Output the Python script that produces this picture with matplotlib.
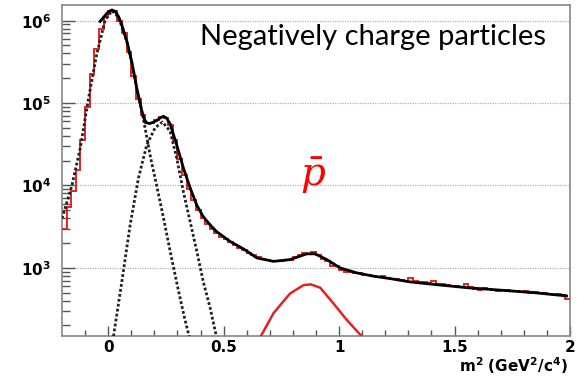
import numpy as np
import matplotlib
matplotlib.use("Agg")
import matplotlib.pyplot as plt
from matplotlib.ticker import FixedLocator, FixedFormatter, LogLocator, FuncFormatter, NullFormatter

# histogram: 110 bins of 0.02 from -0.2 to 2.0 (counts)
BIN_LO = -0.2
BIN_W = 0.02
hist_counts = [
    3000, 5500, 8500, 15500, 35500, 89000, 224000, 447000, 794000, 1120000,
    1320000, 1320000, 1000000, 708000, 417000, 214000, 112000, 70800, 57500, 57500,
    61700, 67600, 66100, 53700, 35500, 20900, 13500, 9100, 6600, 5000,
    3980, 3390, 2950, 2630, 2400, 2240, 2040, 1900, 1740, 1660,
    1510, 1450, 1350, 1290, 1260, 1200, 1200, 1200, 1230, 1260,
    1350, 1450, 1510, 1480, 1550, 1450, 1290, 1200, 1050, 1050,
    950, 900, 890, 870, 860, 830, 810, 800, 780, 790,
    760, 740, 735, 720, 700, 760, 690, 680, 670, 660,
    690, 640, 635, 625, 600, 610, 590, 630, 580, 560,
    545, 570, 560, 535, 530, 545, 540, 530, 525, 515,
    520, 500, 505, 495, 490, 485, 465, 480, 470, 420,
]

# total fit (solid black)
fit_x = [-0.035, -0.02, 0.0, 0.016, 0.03, 0.045, 0.059, 0.081, 0.103, 0.124,
         0.146, 0.157, 0.167, 0.18, 0.195, 0.211, 0.225, 0.239, 0.252, 0.268,
         0.297, 0.326, 0.355, 0.384, 0.412, 0.442, 0.47, 0.528, 0.586, 0.644,
         0.716, 0.788, 0.86, 0.896, 0.947, 1.004, 1.076, 1.148, 1.221, 1.307,
         1.408, 1.553, 1.697, 1.841, 1.985]
fit_y = [977000, 1100000, 1280000, 1350000, 1300000, 1120000, 891000, 562000, 309000, 151000,
         79400, 63000, 57500, 56500, 58500, 61700, 66000, 69200, 66000, 56200,
         30900, 16200, 9330, 5750, 4170, 3310, 2750, 2090, 1700, 1320,
         1200, 1260, 1480, 1480, 1260, 1000, 870, 794, 741, 676,
         631, 575, 537, 501, 457]

# pion component (dotted)
pi_x = [-0.2, -0.158, -0.121, -0.085, -0.049, -0.013, 0.016, 0.045, 0.081, 0.103,
        0.124, 0.146, 0.165, 0.185, 0.21, 0.24, 0.27, 0.30, 0.33, 0.355]
pi_y = [3980, 9770, 28200, 115000, 398000, 1020000, 1320000, 1100000, 550000, 302000,
        148000, 79400, 41700, 20900, 10000, 3980, 1510, 603, 251, 132]

# kaon component (dotted)
k_x = [0.023, 0.059, 0.095, 0.131, 0.167, 0.203, 0.235, 0.268, 0.297, 0.326,
       0.355, 0.384, 0.412, 0.442, 0.47]
k_y = [148, 676, 3310, 12300, 30900, 50100, 58900, 45700, 21400, 8320,
       3630, 1580, 676, 324, 141]

# antiproton component (red)
pbar_x = [0.661, 0.716, 0.788, 0.846, 0.877, 0.918, 0.975, 1.033, 1.098]
pbar_y = [148, 282, 490, 617, 631, 575, 372, 234, 148]

x_ticks = [0, 0.5, 1, 1.5, 2]
x_labels = ["0", "0.5", "1", "1.5", "2"]
y_decades = [1e3, 1e4, 1e5, 1e6]

W, H = 577, 376
fig = plt.figure(figsize=(W / 100, H / 100), dpi=100)
ax = fig.add_axes([62 / W, 1 - 336 / H, (570 - 62) / W, (336 - 5) / H])

red = "#e32222"
edges = BIN_LO + BIN_W * np.arange(len(hist_counts) + 1)
ax.stairs(hist_counts, edges, color=red, lw=1.4, baseline=None, zorder=3)
ax.plot(pi_x, pi_y, color="#222222", lw=2, ls=(0, (1, 0.8)), zorder=4)
ax.plot(k_x, k_y, color="#222222", lw=2, ls=(0, (1, 0.8)), zorder=4)
ax.plot(pbar_x, pbar_y, color=red, lw=1.8, zorder=4)
ax.plot(fit_x, fit_y, color="black", lw=2, zorder=5)

ax.set_yscale("log")
ax.set_xlim(-0.2, 2.0)
ax.set_ylim(149, 1.55e6)

for yv in y_decades:
    ax.axhline(yv, color="#b0b0b0", lw=0.9, ls=(0, (1, 1)), zorder=1)

ax.xaxis.set_major_locator(FixedLocator(x_ticks))
ax.xaxis.set_major_formatter(FixedFormatter(x_labels))
ax.xaxis.set_minor_locator(FixedLocator(np.arange(-0.1, 2.0, 0.1)))
ax.yaxis.set_major_locator(FixedLocator(y_decades))
ax.yaxis.set_major_formatter(FuncFormatter(lambda v, p: r"$\mathbf{10^{%d}}$" % round(np.log10(v))))
ax.yaxis.set_minor_locator(LogLocator(base=10, subs=np.arange(2, 10)))
ax.yaxis.set_minor_formatter(NullFormatter())

ax.tick_params(which="both", direction="in", color="#555555", top=False, right=False)
ax.tick_params(axis="x", which="major", length=7, width=1, labelsize=11, pad=3)
ax.tick_params(axis="x", which="minor", length=4, width=1)
ax.tick_params(axis="y", which="major", length=9, width=1, labelsize=11, pad=8)
ax.tick_params(axis="y", which="minor", length=6, width=1)
for lab in ax.get_xticklabels():
    lab.set_fontweight("bold")
for sp in ax.spines.values():
    sp.set_color("#888888")
    sp.set_linewidth(1.2)

fig.text(568 / W, 1 - 366 / H, r"$\mathbf{m^2\ (GeV^2/c^4)}$", ha="right", va="center", fontsize=11)
fig.text(200 / W, 1 - 45 / H, "Negatively charge particles", ha="left", va="baseline",
         fontsize=21, family="Lato")
fig.text(313 / W, 1 - 176 / H, r"$\bar{p}$", ha="center", va="center", fontsize=28,
         color="red", math_fontfamily="dejavuserif")

fig.savefig("out.png", dpi=100)
